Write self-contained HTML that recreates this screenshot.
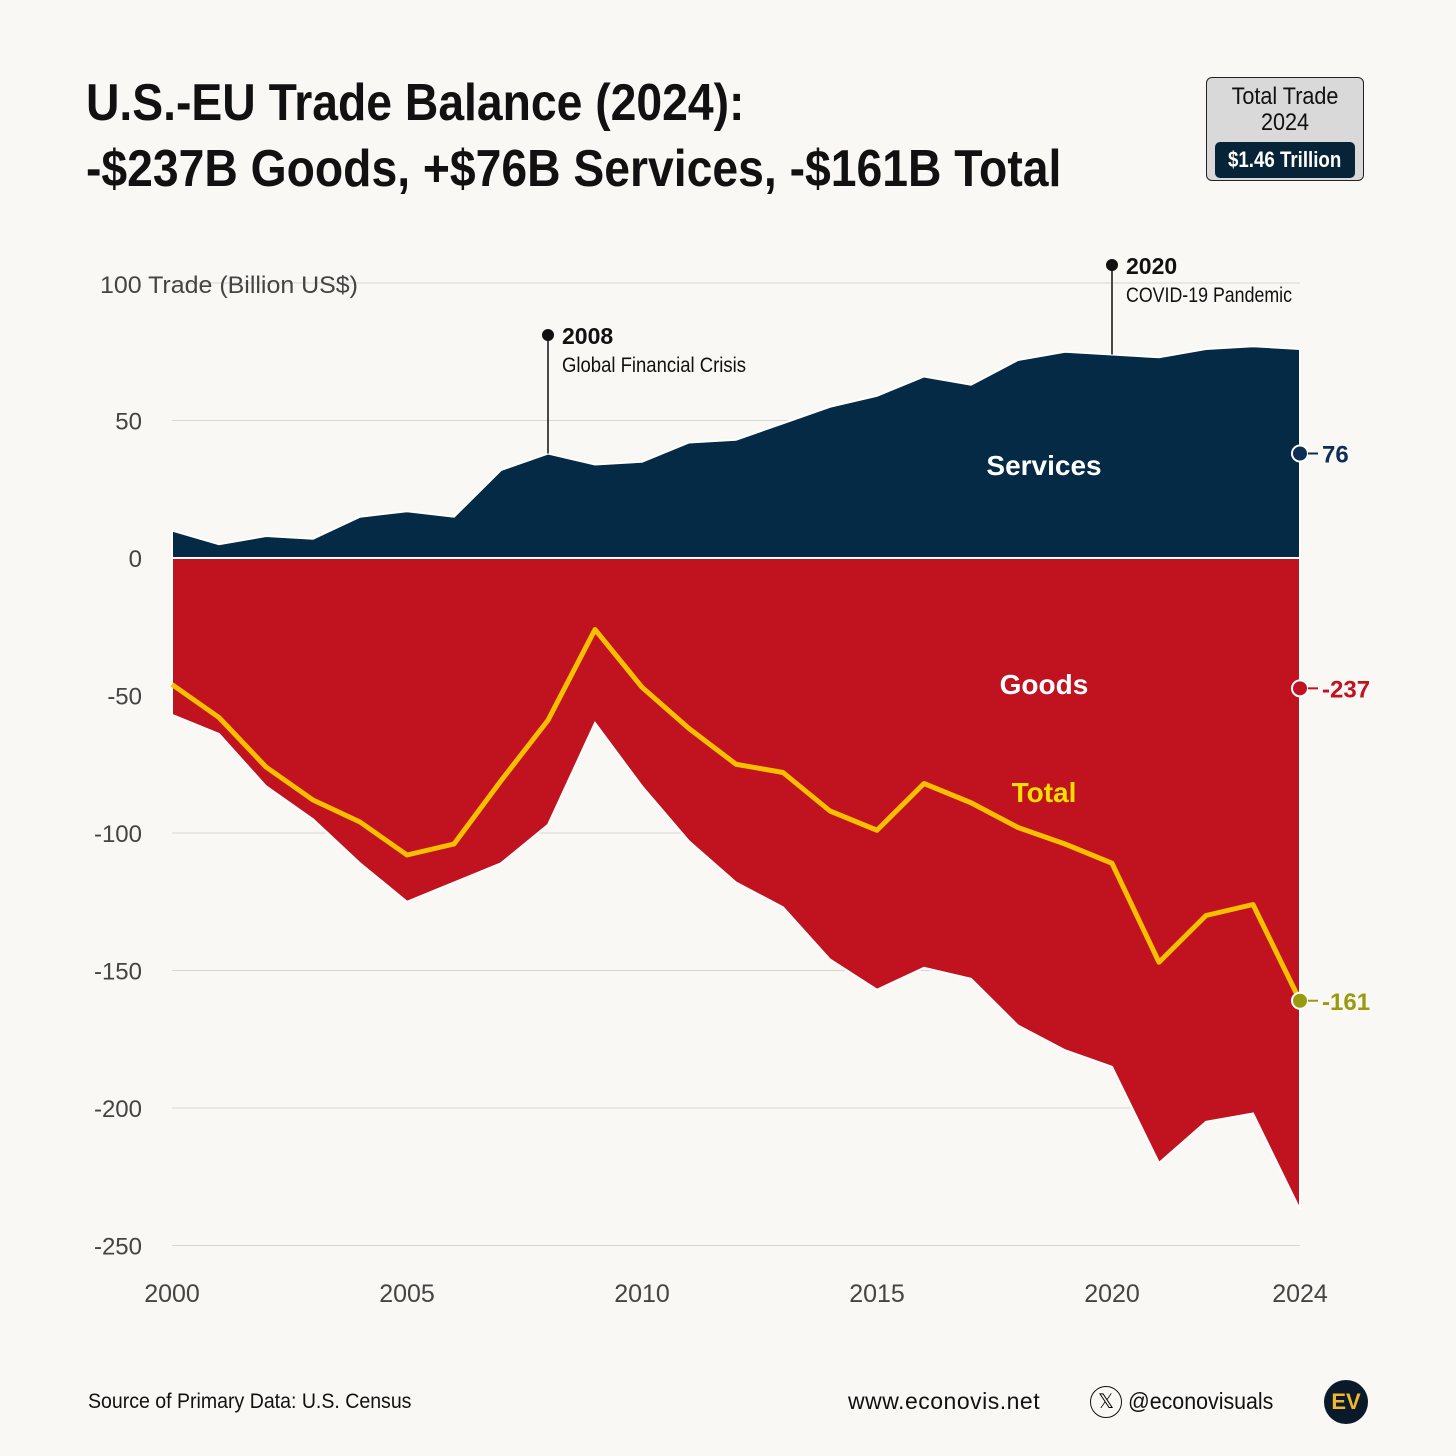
<!DOCTYPE html>
<html><head><meta charset="utf-8">
<style>
html,body{margin:0;padding:0;background:#f9f8f4;}
body{width:1456px;height:1456px;position:relative;overflow:hidden;font-family:"Liberation Sans",sans-serif;}
.t{position:absolute;white-space:nowrap;}
</style></head><body>
<div class="t" style="left:86px;top:70px;font-size:52px;font-weight:bold;line-height:66px;color:#111;transform:scaleX(0.89);transform-origin:0 0;">U.S.-EU Trade Balance (2024):<br>-$237B Goods, +$76B Services, -$161B Total</div>
<div class="t" style="left:1206px;top:77px;width:156px;height:102px;border:1.5px solid #222;border-radius:6px;background:#d9d9d9;text-align:center;">
 <div style="font-size:24px;line-height:26px;margin-top:6px;color:#111;transform:scaleX(0.9);">Total Trade<br>2024</div>
 <div style="margin:6px auto 0;width:140px;height:36px;background:#062338;color:#fff;border-radius:5px;font-size:22px;line-height:36px;font-weight:bold;white-space:nowrap;"><span style="display:inline-block;transform:scaleX(0.85);">$1.46 Trillion</span></div>
</div>
<svg id="chart" width="1456" height="1456" style="position:absolute;left:0;top:0;" xmlns="http://www.w3.org/2000/svg"></svg>
<div class="t" style="left:88px;top:1390px;font-size:21px;color:#111;transform:scaleX(0.93);transform-origin:0 0;">Source of Primary Data: U.S. Census</div>
<div class="t" style="left:848px;top:1388px;font-size:23px;color:#111;letter-spacing:0.5px;">www.econovis.net</div>
<div class="t" style="left:1090px;top:1386px;width:30px;height:30px;border:1.5px solid #111;border-radius:50%;text-align:center;font-size:20px;line-height:30px;">𝕏</div>
<div class="t" style="left:1128px;top:1388px;font-size:23px;color:#111;transform:scaleX(0.93);transform-origin:0 0;">@econovisuals</div>
<div class="t" style="left:1324px;top:1380px;width:44px;height:44px;border-radius:50%;background:#0b1a2a;color:#f2b530;font-weight:bold;font-size:22px;line-height:44px;text-align:center;">EV</div>
<script>
const years=[2000,2001,2002,2003,2004,2005,2006,2007,2008,2009,2010,2011,2012,2013,2014,2015,2016,2017,2018,2019,2020,2021,2022,2023,2024];
const services=[10,5,8,7,15,17,15,32,38,34,35,42,43,49,55,59,66,63,72,75,74,73,76,77,76];
const goods=[-57,-64,-83,-95,-111,-125,-118,-111,-97,-60,-83,-103,-118,-127,-146,-157,-149,-153,-170,-179,-185,-220,-205,-202,-237];
const total=[-46,-58,-76,-88,-96,-108,-104,-81,-59,-26,-47,-62,-75,-78,-92,-99,-82,-89,-98,-104,-111,-147,-130,-126,-161];
const yTicks=[100,50,0,-50,-100,-150,-200,-250];
const xTicks=[2000,2005,2010,2015,2020,2024];
const X=y=>172+(y-2000)*47;
const Y=v=>558-v*2.75;
const svg=document.getElementById('chart');
const NS='http://www.w3.org/2000/svg';
const FF='Liberation Sans, sans-serif';
function mk(tag,attrs,text){const e=document.createElementNS(NS,tag);for(const k in attrs)e.setAttribute(k,attrs[k]);if(text!==undefined)e.textContent=text;svg.appendChild(e);return e;}
yTicks.forEach(v=>{
 const l=mk('line',{x1:172,x2:1300,y1:Y(v),y2:Y(v),stroke:'#d6d6d2','stroke-width':1});
 
 
 const t=mk('text',{x:142,y:Y(v)+9,'text-anchor':'end','font-size':24,fill:'#444','font-family':FF},v===100?'':String(v));
 
 
});
const yt=mk('text',{x:100,y:Y(100)+10,'font-size':24,fill:'#444','font-family':FF,textLength:258,lengthAdjust:'spacingAndGlyphs'},'100 Trade (Billion US$)');


function area(vals,fill,name){
 let d='M'+X(years[0])+','+Y(0);
 years.forEach((y,i)=>d+=' L'+X(y)+','+Y(vals[i]));
 d+=' L'+X(years[years.length-1])+','+Y(0)+'Z';
 const p=mk('path',{d:d,fill:fill,stroke:'#fff','stroke-width':2});
 
 
}
area(services,'#042a45','services-area');
area(goods,'#c0121f','goods-area');
let td='';years.forEach((y,i)=>td+=(i?' L':'M')+X(y)+','+Y(total[i]));
const tl=mk('path',{d:td,fill:'none',stroke:'#f6c000','stroke-width':5,'stroke-linejoin':'round'});


xTicks.forEach(y=>{
 const t=mk('text',{x:X(y),y:1302,'text-anchor':'middle','font-size':25,fill:'#444','font-family':FF},String(y));
 
 
});
function lbl(txt,x,y,col,name){const t=mk('text',{x:x,y:y,'text-anchor':'middle','font-size':28,'font-weight':'bold',fill:col,'font-family':FF},txt);}
lbl('Services',1044,475,'#fff','services-label');
lbl('Goods',1044,694,'#fff','goods-label');
lbl('Total',1044,802,'#f6e000','total-label');
const last=years.length-1;
function endLbl(yp,txt,col,name){
 const c=mk('circle',{cx:1300,cy:yp,r:8,fill:col,stroke:'#fff','stroke-width':2});
 
 
 const l=mk('line',{x1:1308,x2:1318,y1:yp,y2:yp,stroke:col,'stroke-width':2});
 
 
 const t=mk('text',{x:1322,y:yp+9,'font-size':24,'font-weight':'bold',fill:col,'font-family':FF},txt);
 
 
}
endLbl(Y(services[last]/2),String(services[last]),'#0d2e55','services');
endLbl(Y(goods[last]/5),String(goods[last]),'#c0121f','goods');
endLbl(Y(total[last]),String(total[last]),'#9a9a10','total');
function ann(year,v,topY,yr,desc,name,w){
 const x=X(year);
 const l=mk('line',{x1:x,x2:x,y1:topY,y2:Y(v),stroke:'#111','stroke-width':1.5});
 
 
 const c=mk('circle',{cx:x,cy:topY,r:6,fill:'#111'});
 
 
 const t1=mk('text',{x:x+14,y:topY+9,'font-size':23,'font-weight':'bold',fill:'#111','font-family':FF},yr);
 
 
 const t2=mk('text',{x:x+14,y:topY+37,'font-size':21,fill:'#111','font-family':FF,textLength:w,lengthAdjust:'spacingAndGlyphs'},desc);
 
 
}
ann(2008,services[8],335,'2008','Global Financial Crisis','annotation-2008',184);
ann(2020,services[20],265,'2020','COVID-19 Pandemic','annotation-2020',166);
</script>
</body></html>
